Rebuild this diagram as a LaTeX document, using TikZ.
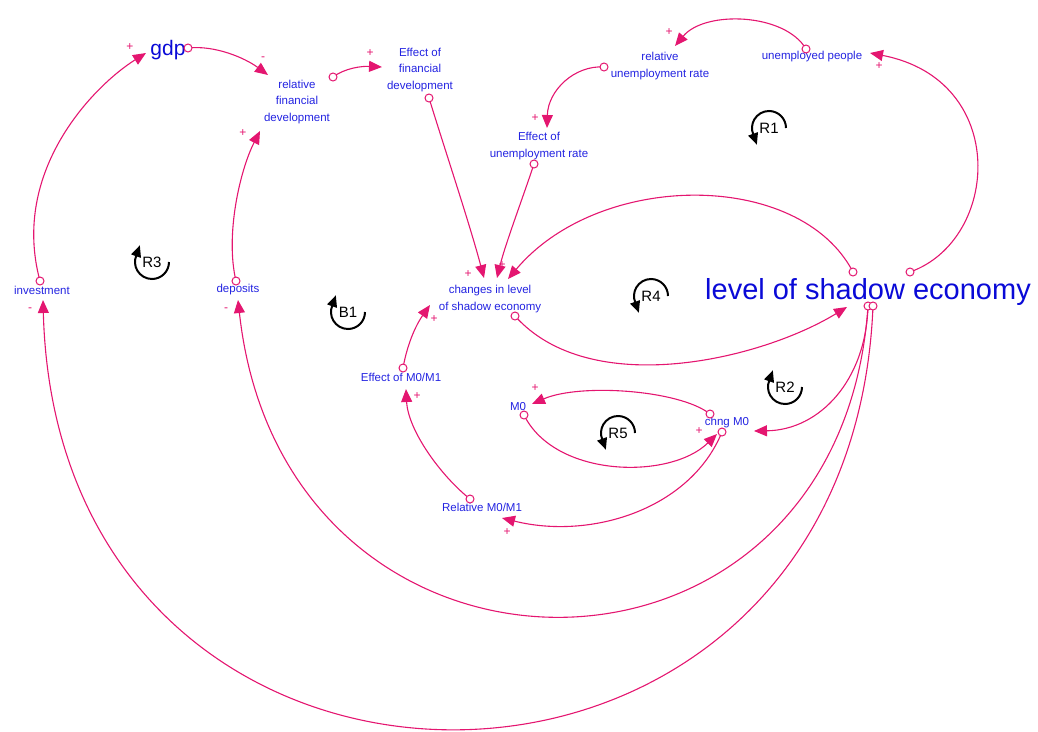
\documentclass[tikz,border=0pt]{standalone}
\usepackage{fontspec}
\setmainfont{Liberation Sans}
\usetikzlibrary{arrows.meta}
\definecolor{lnk}{RGB}{228,22,112}
\definecolor{vtx}{RGB}{35,35,225}
\definecolor{big}{RGB}{10,10,215}
\begin{document}
\begin{tikzpicture}[x=1pt,y=-1pt,
  var/.style={text=vtx,font=\fontsize{11.5}{16.5}\selectfont,align=center,inner sep=0pt},
  link/.style={draw=lnk,line width=1.1pt,-{Triangle[length=13pt,width=11pt]}},
  tail/.style={circle,draw=lnk,fill=white,line width=1pt,minimum size=8pt,inner sep=0pt},
  pol/.style={text=lnk,font=\fontsize{12}{12}\selectfont,inner sep=0pt},
  looplbl/.style={font=\fontsize{15}{15}\selectfont,inner sep=0pt},
  loopline/.style={draw=black,line width=2pt}
]
\useasboundingbox (0,0) rectangle (1038,731);

% variables
\node[var,font=\fontsize{21}{21}\selectfont,text=big] (gdp) at (168,50) {gdp};
\node[var] (rfd) at (297,102) {relative\\financial\\development};
\node[var] (efd) at (420,70) {Effect of\\financial\\development};
\node[var] (rur) at (660,66) {relative\\unemployment rate};
\node[var] (up) at (812,57) {unemployed people};
\node[var] (eur) at (539,146) {Effect of\\unemployment rate};
\node[var] (ch) at (490,299) {changes in level\\of shadow economy};
\node[var,font=\fontsize{29}{29}\selectfont,text=big] (lev) at (868,292) {level of shadow economy};
\node[var] (inv) at (42,290) {investment};
\node[var] (dep) at (238,290) {deposits};
\node[var] (em) at (401,377) {Effect of M0/M1};
\node[var] (m0) at (518,407) {M0};
\node[var] (cm) at (727,423) {chng M0};
\node[var] (rel) at (482,507) {Relative M0/M1};

% ports
\coordinate (inv-o) at (40,281);  \coordinate (gdp-i) at (146,53);
\coordinate (gdp-o) at (188,48);  \coordinate (rfd-i1) at (268,75);
\coordinate (dep-o) at (236,281); \coordinate (rfd-i2) at (260,131);
\coordinate (rfd-o) at (333,77);  \coordinate (efd-i) at (382,67);
\coordinate (efd-o) at (429,98);  \coordinate (ch-i1) at (484,278);
\coordinate (up-o) at (806,49);   \coordinate (rur-i) at (675,46);
\coordinate (rur-o) at (604,67);  \coordinate (eur-i) at (547,128);
\coordinate (eur-o) at (534,164); \coordinate (ch-i2) at (497,278);
\coordinate (lev-o1) at (853,272);\coordinate (ch-i3) at (508,279);
\coordinate (lev-o2) at (910,272);\coordinate (up-i) at (870,53);
\coordinate (ch-o) at (515,316);  \coordinate (lev-i) at (847,307);
\coordinate (lev-o3) at (868,306);\coordinate (cm-i1) at (754,431);
\coordinate (dep-i) at (238,300);
\coordinate (lev-o4) at (873,306);\coordinate (inv-i) at (43,300);
\coordinate (cm-o1) at (710,414); \coordinate (m0-i) at (532,404);
\coordinate (m0-o) at (524,415);  \coordinate (cm-i2) at (717,434);
\coordinate (cm-o2) at (722,432); \coordinate (rel-i) at (502,518);
\coordinate (rel-o) at (470,499); \coordinate (em-i) at (406,389);
\coordinate (em-o) at (403,368);  \coordinate (ch-i4) at (430,305);

% links
\draw[link] (inv-o) .. controls (10,170) and (95,85) .. (gdp-i);
\draw[link] (gdp-o) .. controls (215,45) and (245,58) .. (rfd-i1);
\draw[link] (dep-o) .. controls (225,235) and (240,170) .. (rfd-i2);
\draw[link] (rfd-o) .. controls (345,68) and (362,66) .. (efd-i);
\draw[link] (efd-o) .. controls (445,150) and (470,225) .. (ch-i1);
\draw[link] (up-o) .. controls (785,13) and (705,10) .. (rur-i);
\draw[link] (rur-o) .. controls (575,65) and (548,90) .. (eur-i);
\draw[link] (eur-o) .. controls (522,200) and (505,245) .. (ch-i2);
\draw[link] (lev-o1) .. controls (800,170) and (600,170) .. (ch-i3);
\draw[link] (lev-o2) .. controls (1000,240) and (1010,80) .. (up-i);
\draw[link] (ch-o) .. controls (590,400) and (760,360) .. (lev-i);
\draw[link] (lev-o3) .. controls (866,380) and (820,430) .. (cm-i1);
\draw[link] (lev-o3) .. controls (840,720) and (284,720) .. (dep-i);
\draw[link] (lev-o4) .. controls (850,870) and (58,870) .. (inv-i);
\draw[link] (cm-o1) .. controls (680,390) and (580,383) .. (m0-i);
\draw[link] (m0-o) .. controls (555,478) and (670,480) .. (cm-i2);
\draw[link] (cm-o2) .. controls (690,510) and (590,540) .. (rel-i);
\draw[link] (rel-o) .. controls (440,475) and (408,430) .. (em-i);
\draw[link] (em-o) .. controls (408,340) and (418,322) .. (ch-i4);

% tails
\foreach \c in {inv-o,gdp-o,dep-o,rfd-o,efd-o,up-o,rur-o,eur-o,lev-o1,lev-o2,ch-o,lev-o3,lev-o4,cm-o1,m0-o,cm-o2,rel-o,em-o}
  \node[tail] at (\c) {};

% polarities
\node[pol] (p1) at (130,47) {+};
\node[pol] (p2) at (263,59) {-};
\node[pol] (p3) at (243,133) {+};
\node[pol] (p4) at (370,53) {+};
\node[pol] (p5) at (535,118) {+};
\node[pol] (p6) at (669,32) {+};
\node[pol] (p7) at (879,66) {+};
\node[pol] (p8) at (468,274) {+};
\node[pol] (p9) at (502,265) {+};
\node[pol] (p10) at (434,319) {+};
\node[pol] (p11) at (417,396) {+};
\node[pol] (p12) at (535,388) {+};
\node[pol] (p13) at (699,431) {+};
\node[pol] (p14) at (507,532) {+};
\node[pol] (p15) at (30,310) {-};
\node[pol] (p16) at (226,310) {-};

% loop markers (s=1: arrow at lower left pointing down; s=-1: arrow at upper left pointing up)
\foreach \n/\x/\y/\s in {R1/769/128/1,R4/651/296/1,R5/618/433/1,R3/152/262/-1,B1/348/312/-1,R2/785/387/-1}{
  \node[looplbl] (\n) at (\x,\y) {\n};
  \draw[loopline] ([shift={(0:17)}]\n.center) arc[start angle=0,end angle={-\s*202},radius=17];
  \fill ([shift={(-12.2,{\s*16.6})}]\n.center) -- ([shift={(-11.0,{\s*4.1})}]\n.center)
     -- ([shift={(-20.9,{\s*7.6})}]\n.center) -- cycle;
}
\end{tikzpicture}
\end{document}
